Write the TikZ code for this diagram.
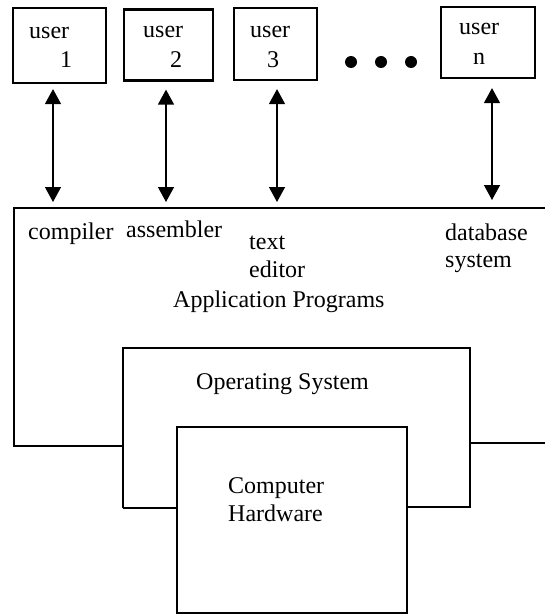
\documentclass[tikz,border=0pt]{standalone}
\usepackage{fontspec}
\setmainfont{Liberation Serif}
\usetikzlibrary{arrows.meta}
\tikzset{
  userbox/.style={draw, line width=2.2pt, rectangle, inner sep=0pt},
  lbl/.style={anchor=base west, inner sep=0pt, font=\fontsize{24}{28}\selectfont},
  link/.style={line width=1.4pt, {Triangle[width=16pt,length=15pt]}-{Triangle[width=16pt,length=15pt]}},
  wall/.style={line width=1.6pt},
  thick wall/.style={line width=2.2pt},
  dot/.style={circle, fill=black, minimum size=12pt, inner sep=0pt}
}
\begin{document}
\begin{tikzpicture}[x=1pt,y=-1pt]
\useasboundingbox (0,0) rectangle (545,615);

% user terminals
\node[userbox, minimum width=93pt, minimum height=75pt] (u1) at (59.5,45.5) {};
\node[userbox, minimum width=89pt, minimum height=71pt] (u2) at (168.5,45) {};
\node[userbox, minimum width=83pt, minimum height=72pt] (u3) at (275.5,44) {};
\node[userbox, minimum width=94pt, minimum height=71pt] (un) at (488,42.5) {};

\node[lbl] (u1a) at (29,39) {user};
\node[lbl] (u1b) at (60,68) {1};
\node[lbl] (u2a) at (143,38) {user};
\node[lbl] (u2b) at (170,68) {2};
\node[lbl] (u3a) at (250,38) {user};
\node[lbl] (u3b) at (267,68) {3};
\node[lbl] (una) at (459,35) {user};
\node[lbl] (unb) at (473,65) {n};

% ellipsis between terminals
\node[dot] (d1) at (351,62) {};
\node[dot] (d2) at (381,62) {};
\node[dot] (d3) at (411,62) {};

% application layer outline
\coordinate (apptl) at (13,208);
\coordinate (apptr) at (545,208);
\coordinate (appbl) at (14,446);
\draw[wall] (apptr) -- (apptl) -- (14,208) -- (appbl) -- (123,446);
\draw[wall] (470,443) -- (545,443);

% links between users and programs
\coordinate (a1) at (53,208);
\coordinate (a2) at (166,208);
\coordinate (a3) at (277,208);
\coordinate (an) at (492,208);
\draw[link, shorten <=5pt, shorten >=6pt] (u1.south -| a1) -- (a1);
\draw[link, shorten <=8pt, shorten >=6pt] (u2.south -| a2) -- (a2);
\draw[link, shorten <=8pt, shorten >=6pt] (u3.south -| a3) -- (a3);
\draw[link, shorten <=9pt, shorten >=8pt] (un.south -| an) -- (an);

% application programs
\node[lbl] (comp) at (28,239) {compiler};
\node[lbl] (asm) at (126,237) {assembler};
\node[lbl] (txt1) at (249,249) {text};
\node[lbl] (txt2) at (249,277) {editor};
\node[lbl] (db1) at (445,240) {database};
\node[lbl] (db2) at (445,267) {system};
\node[lbl] (apps) at (173,307) {Application Programs};

% operating system layer
\draw[thick wall] (123,508) -- (123,348) -- (470,348) -- (470,508);
\draw[thick wall] (123,508) -- (177,508);
\draw[thick wall] (407,507) -- (470,507);
\node[lbl] (os) at (196,389) {Operating System};

% hardware
\node[userbox, minimum width=230pt, minimum height=186pt] (hw) at (292,520) {};
\node[lbl] (hw1) at (228,493) {Computer};
\node[lbl] (hw2) at (228,521) {Hardware};
\end{tikzpicture}
\end{document}
